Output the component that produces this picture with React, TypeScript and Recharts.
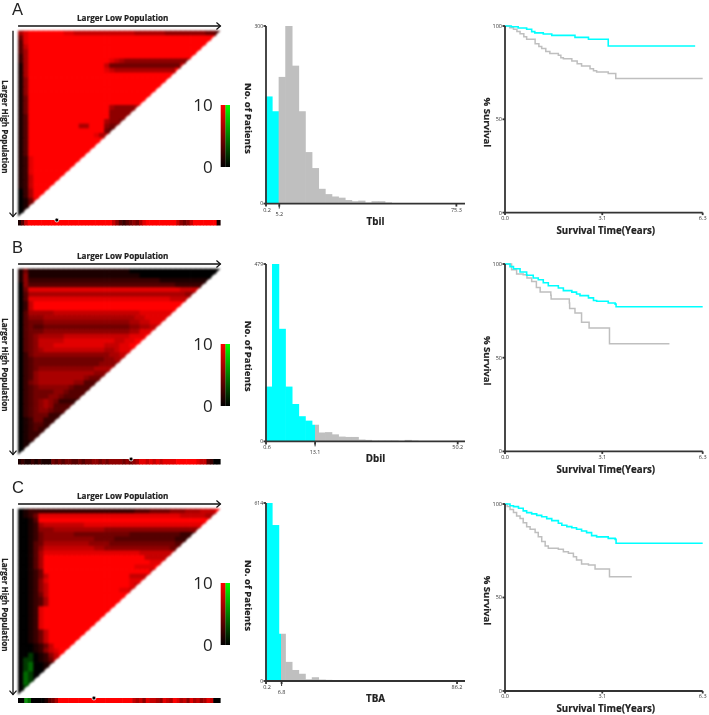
import { Bar, BarChart, Cell, Label, Line, LineChart, ReferenceDot, ReferenceLine, Scatter, ScatterChart, XAxis, YAxis } from 'recharts';

const FONT = '"Open Sans", sans-serif';
const CYAN = '#00FFFF';
const GREY = '#BFBFBF';
const AXIS = '#333333';

// X-tile grids: one string per row, one character per cell. 0-9 = black to red, a-c = green.
// A row may stop early, its last character then fills up to the diagonal.
const heatRowsA = [
  '6899999998877777777777766666655555555443', '489', '389', '379', '369', '269',
  '26999999999999999987655555555555559', '1699999999999999974444444444444479', '16999999999999999876666666666669',
  '169', '159', '159', '159', '159', '149', '149',
  '1499999999999999996555568', '149999999999999999555555', '13999999999999999955556', '139999999999999996554',
  '13999999999966999544', '1399999999999999943', '139999999999999866',
  '139', '139', '139', '139', '1289', '1289', '1289', '1289', '1279', '1279', '1279', '0269', '0269', '0148', '014', '01', '0',
];
const heatRowsB = [
  '1411111111111111111111000000000000000000', '1511111111111111111111110000000000000000', '1522222222222222222222222222111111',
  '0533333333333333333333333333333222', '0488888888888888888888888888888877', '0366666666666666666666666666666665',
  '0388888888888888888888888888887', '0279', '02799', '0366666777777777777777778', '0355566666666666666666677888',
  '0344455555555555555555667788', '034334444444444444444455667', '03444555555555555555556688', '03456666677777777777778889',
  '034577777888888888877889', '03457778888888888777889', '0345677777777777766788', '024555555555555555667',
  '02344444444444444556', '023444444444444455', '0234555555555556', '0235666666666665', '023566666666654', '02456666666553',
  '023455555543', '02344445543', '0234445543', '023456542', '02345653', '02345543', '0234442', '012442', '012332', '01232', '01222', '0122', '011', '01', '0',
];
const heatRowsC = [
  '0122222222222222222222233344445556667779', '01248888888888888888888888888888777776', '0013999999999999999999999999999999999',
  '0012677777777888888888888888888888888', '0012555666666666655555555555555555', '0012455555544444444444333333333322',
  '001245555555555444433333333333322', '00134666666666555544444444444443', '0013577777777776655555555555554',
  '00136888888888888888888877777774', '0013699999999999999999999777775', '00136999999999999999999999888',
  '0013699999999999999999988889', '00124999999999999999999999777', '00124799999999999999997777', '00125899999999999999998889',
  '0012579999999999999999877', '00125799999999999999887', '0012479', '0012369', '0012369', '001289', '001289', '001289', '001289', '001289',
  '0012479', '0012479', '0012479', '000124799999', '0001257899', '00a012579', '0aa01247', '0ab0012', '0ab001', '0ba00', '0ba0', '0ba', '0a', '0',
];

const stripA = '137999999999999999999999999975323454689999999997545799999991';
const stripB = '121121211143434433434455454555545456887878788889999998773200';
const stripC = '00cb0000134699999999999999999999997675877658769867586756870';

const histA = [181, 156, 214, 300, 233, 156, 87, 60, 25, 16, 12, 10, 6, 4, 5, 2, 4, 4, 2, 1, 1, 1, 1, 1, 1, 0, 0, 0, 0, 0];
const histB = [148, 479, 304, 148, 101, 68, 56, 45, 24, 25, 19, 13, 12, 12, 5, 4, 2, 2, 2, 2, 1, 4, 2, 1, 1, 1, 1, 1, 1, 0];
const histC = [614, 538, 163, 66, 38, 25, 6, 13, 5, 4, 3, 3, 2, 1, 2, 2, 1, 2, 2, 1, 0, 0, 0, 0, 0, 0, 0, 0, 0, 0];

const highA = [[0, 100], [0.2, 99.6], [0.42, 98.9], [0.69, 98.3], [0.85, 97], [0.95, 96.3], [1.22, 95.7], [1.49, 95], [2.23, 93.9], [2.66, 92.9], [3.29, 89.3], [6.06, 89.3]];
const lowA = [[0, 100], [0.15, 99], [0.27, 98.2], [0.38, 97], [0.48, 95.9], [0.6, 94.3], [0.69, 92.9], [0.96, 90.5], [1.08, 89], [1.17, 87.9], [1.3, 86.3], [1.43, 85.2], [1.7, 84.3], [1.78, 83], [1.86, 82.5], [2.13, 81.3], [2.3, 79.8], [2.44, 78.6], [2.71, 77.1], [2.82, 76], [2.92, 75.4], [3.29, 74.5], [3.53, 71.8], [6.3, 71.8]];
const highB = [[0, 100], [0.16, 98.6], [0.27, 97.5], [0.48, 95.7], [0.69, 94], [0.9, 92.5], [1.06, 91.6], [1.22, 90], [1.38, 88.4], [1.7, 87.2], [1.86, 85.8], [2.13, 85], [2.28, 84], [2.39, 83.1], [2.66, 81.9], [2.82, 80.5], [2.92, 80.1], [3.29, 79.2], [3.51, 78.6], [3.54, 77.2], [6.3, 77.2]];
const lowB = [[0, 100], [0.21, 97], [0.37, 94.7], [0.58, 94.3], [0.7, 92.5], [0.85, 90.7], [1.0, 87.5], [1.12, 85], [1.46, 83.3], [1.47, 81.3], [2.05, 79.2], [2.06, 76.2], [2.23, 73.8], [2.44, 68.9], [2.68, 65.8], [3.33, 57.5], [5.24, 57.5]];
const highC = [[0, 100], [0.16, 99.1], [0.27, 98.6], [0.43, 97.7], [0.58, 96.3], [0.69, 95.4], [0.85, 94.7], [1.01, 93.9], [1.17, 93.2], [1.33, 92.2], [1.49, 91.1], [1.7, 89.7], [1.81, 88.6], [1.97, 87.9], [2.13, 87.3], [2.28, 86.5], [2.44, 85.6], [2.6, 84.7], [2.76, 83.1], [2.92, 82.4], [3.29, 81.6], [3.51, 81.1], [3.54, 79], [6.3, 79]];
const lowC = [[0, 100], [0.07, 98.6], [0.16, 97.1], [0.27, 95.4], [0.37, 93.6], [0.48, 92.3], [0.58, 90], [0.69, 87.9], [0.8, 86.5], [0.96, 84.7], [1.06, 82.5], [1.17, 79.9], [1.28, 77.5], [1.38, 76.3], [1.7, 75.8], [1.86, 74.5], [2.02, 73.6], [2.18, 71.8], [2.28, 70.1], [2.44, 67.9], [2.66, 67.4], [2.87, 65.2], [3.33, 61.1], [4.04, 61.1]];

const COLS = 40;
const CELL_W = 5.06;
const CELL_H = 4.65;
const STRIP_BINS = 60;
const STRIP_W = 202.5;

const levelColor = (ch: string) => {
  if (ch === 'a') return '#003a00';
  if (ch === 'b') return '#006a00';
  if (ch === 'c') return '#109010';
  return `rgb(${Math.round((Number(ch) / 9) * 255)},0,0)`;
};

const toCells = (rows: string[]) =>
  rows.flatMap((row, r) => {
    const n = COLS - r;
    const full = row.padEnd(n, row[row.length - 1]).slice(0, n);
    return full.split('').map((ch, c) => ({ x: c + 0.5, y: r + 0.5, fill: levelColor(ch), edge: c === n - 1 }));
  });

const HeatCell = (props: any) => {
  const { cx, cy, payload } = props;
  const x = cx - CELL_W / 2;
  const y = cy - CELL_H / 2;
  if (payload.edge) {
    return <polygon points={`${x},${y} ${x + CELL_W},${y} ${x},${y + CELL_H}`} fill={payload.fill} />;
  }
  return <rect x={x} y={y} width={CELL_W + 0.8} height={CELL_H + 0.8} fill={payload.fill} />;
};

// recharts floors bar widths, so the bins are drawn at their true width to close the gaps
const binShape = (w: number) => (p: any) =>
  p.height > 0 ? <rect x={p.x + p.width / 2 - w / 2} y={p.y} width={w} height={p.height} fill={p.payload.fill} /> : <g />;

const boldLabel = { fontFamily: FONT, fontWeight: 700, fill: '#222', stroke: '#222', strokeWidth: 0.2 };

function Triangle({ rows, top, id }: { rows: string[]; top: number; id: string }) {
  const plotW = (COLS + 1) * CELL_W;
  const plotH = (COLS + 1) * CELL_H;
  return (
    <div style={{ position: 'absolute', left: -3, top: top - CELL_H - 16 }}>
      <ScatterChart width={16 + plotW + 6} height={16 + plotH + 6} margin={{ top: 0, right: 6, bottom: 6, left: 0 }}>
        <defs>
          <marker id={id} markerWidth="6" markerHeight="8" refX="4.5" refY="4" orient="auto" markerUnits="userSpaceOnUse">
            <path d="M0.5,0.5 L4.5,4 L0.5,7.5" fill="none" stroke="#111" strokeWidth="1.2" />
          </marker>
        </defs>
        <XAxis type="number" dataKey="x" domain={[-1, COLS]} orientation="top" height={16} tick={false} axisLine={false} tickLine={false}>
          <Label value="Larger Low Population" position="center" fontSize={8.15} dx={6} {...boldLabel} />
        </XAxis>
        <YAxis type="number" dataKey="y" domain={[-1, COLS]} reversed width={16} tick={false} axisLine={false} tickLine={false}>
          <Label value="Larger High Population" position="center" angle={90} fontSize={8.15} dy={5.5} {...boldLabel} />
        </YAxis>
        <Scatter className="heat-cells" data={toCells(rows)} shape={HeatCell} isAnimationActive={false} />
        <ReferenceLine segment={[{ x: 0, y: -1 }, { x: COLS, y: -1 }]} stroke="#111" strokeWidth={1.3} markerEnd={`url(#${id})`} />
        <ReferenceLine segment={[{ x: -1, y: 0 }, { x: -1, y: COLS }]} stroke="#111" strokeWidth={1.3} markerEnd={`url(#${id})`} />
      </ScatterChart>
    </div>
  );
}

function Strip({ levels, top, dotBin }: { levels: string; top: number; dotBin: number }) {
  const full = levels.padEnd(STRIP_BINS, levels[levels.length - 1]).slice(0, STRIP_BINS);
  const data = full.split('').map((ch, i) => ({ i, v: 1, fill: levelColor(ch) }));
  return (
    <div style={{ position: 'absolute', left: 18, top: top - 4 }}>
      <BarChart width={STRIP_W} height={9.5} data={data} margin={{ top: 4, right: 0, bottom: 0, left: 0 }} barCategoryGap={0}>
        <XAxis dataKey="i" hide />
        <YAxis domain={[0, 1]} hide />
        <Bar className="strip-cells" dataKey="v" shape={binShape(STRIP_W / STRIP_BINS + 0.6)} isAnimationActive={false} />
        <ReferenceDot x={dotBin} y={1} r={2} fill="#000" stroke="#fff" strokeWidth={0.8} ifOverflow="visible" />
      </BarChart>
    </div>
  );
}

const scaleBands = [{ band: 'red', v: 10 }, { band: 'green', v: 10 }];

function ColorBar({ top, id }: { top: number; id: string }) {
  return (
    <div style={{ position: 'absolute', left: 170, top: top - 14 }}>
      <BarChart width={60.3} height={90} data={scaleBands} margin={{ top: 14, right: 0, bottom: 14, left: 0 }} barCategoryGap={0}>
        <defs>
          <linearGradient id={`${id}r`} x1="0" y1="0" x2="0" y2="1">
            <stop offset="0" stopColor="#ff0000" />
            <stop offset="1" stopColor="#000000" />
          </linearGradient>
          <linearGradient id={`${id}g`} x1="0" y1="0" x2="0" y2="1">
            <stop offset="0" stopColor="#00ff00" />
            <stop offset="1" stopColor="#000000" />
          </linearGradient>
        </defs>
        <XAxis dataKey="band" hide />
        <YAxis domain={[0, 10]} ticks={[0, 10]} width={50.7} axisLine={false} tickLine={false} tick={{ fontFamily: FONT, fontSize: 17, fill: '#222' }} tickMargin={2} />
        <Bar dataKey="v" isAnimationActive={false}>
          <Cell fill={`url(#${id}r)`} />
          <Cell fill={`url(#${id}g)`} />
        </Bar>
      </BarChart>
    </div>
  );
}

const BINS = 30;

function Histogram(props: { counts: number[]; top: number; bottom: number; cut: number; last: number; yMax: number; name: string; tickText: string[]; id: string }) {
  const { counts, top, bottom, cut, last, yMax, name, tickText, id } = props;
  const plotW = 199;
  const splitAt = cut - Math.floor(cut);
  const positions = [0, cut, last];
  const fillFor = (i: number) => {
    if (i + 1 <= cut) return CYAN;
    if (i >= cut) return GREY;
    return `url(#${id})`;
  };
  const data = counts.map((count, i) => ({ bin: i + 0.5, count, fill: fillFor(i) }));
  const renderTick = (p: any) => {
    const isCut = p.payload.value === cut;
    return (
      <g>
        {isCut && <line x1={p.x} y1={p.y - 2} x2={p.x} y2={p.y + 1} stroke={AXIS} strokeWidth={1} />}
        <text x={p.x + (p.payload.value === 0 ? 1 : 0)} y={p.y + (isCut ? 8.5 : 4)} textAnchor="middle" fontFamily={FONT} fontSize={5.5} fill="#333">
          {tickText[positions.indexOf(p.payload.value)]}
        </text>
      </g>
    );
  };
  return (
    <div style={{ position: 'absolute', left: 230, top: top - 6 }}>
      <BarChart width={36 + plotW + 5} height={bottom - top + 6 + 35} data={data} margin={{ top: 6, right: 5, bottom: 0, left: 0 }}>
        <defs>
          <linearGradient id={id} x1="0" y1="0" x2="1" y2="0">
            <stop offset={splitAt} stopColor={CYAN} />
            <stop offset={splitAt} stopColor={GREY} />
          </linearGradient>
        </defs>
        <XAxis
          type="number"
          dataKey="bin"
          domain={[0, BINS]}
          ticks={positions}
          interval={0}
          height={35}
          tickSize={3}
          tickMargin={1}
          tick={renderTick}
          stroke={AXIS}
          strokeWidth={1.8}
        >
          <Label value={name} position="center" dx={10} fontSize={9.8} {...boldLabel} />
        </XAxis>
        <YAxis
          domain={[0, yMax]}
          ticks={[0, yMax]}
          width={36}
          tickSize={2.5}
          tickMargin={0.5}
          tick={{ fontFamily: FONT, fontSize: 5, fill: '#333' }}
          stroke={AXIS}
          strokeWidth={1.8}
        >
          <Label value="No. of Patients" position="center" angle={90} dy={3.5} fontSize={9.6} {...boldLabel} />
        </YAxis>
        <Bar dataKey="count" barSize={plotW / BINS} shape={binShape(plotW / BINS + 0.6)} isAnimationActive={false} />
      </BarChart>
    </div>
  );
}

const toCurve = (pairs: number[][]) => pairs.map(([t, s]) => ({ t, s }));

function Survival({ high, low, top, bottom }: { high: number[][]; low: number[][]; top: number; bottom: number }) {
  return (
    <div style={{ position: 'absolute', left: 469, top: top - 6 }}>
      <LineChart width={36 + 197.7 + 5} height={bottom - top + 6 + 35.4} margin={{ top: 6, right: 5, bottom: 0, left: 0 }}>
        <XAxis
          type="number"
          dataKey="t"
          domain={[0, 6.3]}
          ticks={[0, 3.1, 6.3]}
          interval={0}
          height={35.4}
          tickSize={2.5}
          tickMargin={1}
          tickFormatter={(v) => v.toFixed(1)}
          tick={{ fontFamily: FONT, fontSize: 5.5, fill: '#333' }}
          stroke={AXIS}
          strokeWidth={1.8}
        >
          <Label value="Survival Time(Years)" position="center" dx={2} fontSize={9.7} {...boldLabel} />
        </XAxis>
        <YAxis
          type="number"
          dataKey="s"
          domain={[0, 100]}
          ticks={[0, 50, 100]}
          width={36}
          tickSize={2.5}
          tickMargin={0.5}
          tick={{ fontFamily: FONT, fontSize: 5.5, fill: '#333' }}
          stroke={AXIS}
          strokeWidth={1.8}
        >
          <Label value="% Survival" position="center" angle={90} dy={3} fontSize={9.6} {...boldLabel} />
        </YAxis>
        <Line data={toCurve(low)} dataKey="s" type="stepAfter" stroke={GREY} strokeWidth={1.5} dot={false} isAnimationActive={false} />
        <Line data={toCurve(high)} dataKey="s" type="stepAfter" stroke={CYAN} strokeWidth={1.6} dot={false} isAnimationActive={false} />
      </LineChart>
    </div>
  );
}

const Letter = ({ text, top }: { text: string; top: number }) => (
  <div style={{ position: 'absolute', left: 12, top, fontFamily: '"Liberation Sans", sans-serif', fontSize: 16.5, lineHeight: '19px', color: '#222' }}>{text}</div>
);

export default function App() {
  return (
    <div style={{ position: 'absolute', left: 0, top: 0, width: 709, height: 715, overflow: 'hidden', background: '#fff', filter: 'blur(0.3px)' }}>
      <style>{'.heat-cells { filter: blur(0.8px); } .strip-cells { filter: blur(0.5px); }'}</style>
      <Letter text="A" top={0} />
      <Letter text="B" top={238} />
      <Letter text="C" top={478} />

      <Triangle rows={heatRowsA} top={31} id="arrowA" />
      <Strip levels={stripA} top={220} dotBin={11} />
      <ColorBar top={105} id="scaleA" />
      <Histogram counts={histA} top={25.7} bottom={203.3} cut={2} last={28.7} yMax={300} name="Tbil" tickText={['0.2', '5.2', '75.3']} id="splitA" />
      <Survival high={highA} low={lowA} top={25.7} bottom={212.3} />

      <Triangle rows={heatRowsB} top={269} id="arrowB" />
      <Strip levels={stripB} top={459} dotBin={33} />
      <ColorBar top={344} id="scaleB" />
      <Histogram counts={histB} top={264.3} bottom={441.7} cut={7.4} last={28.9} yMax={479} name="Dbil" tickText={['0.6', '13.1', '50.2']} id="splitB" />
      <Survival high={highB} low={lowB} top={264.3} bottom={451.7} />

      <Triangle rows={heatRowsC} top={508.7} id="arrowC" />
      <Strip levels={stripC} top={697.7} dotBin={22} />
      <ColorBar top={583} id="scaleC" />
      <Histogram counts={histC} top={503.3} bottom={681.3} cut={2.35} last={28.8} yMax={614} name="TBA" tickText={['0.2', '6.8', '86.2']} id="splitC" />
      <Survival high={highC} low={lowC} top={504} bottom={691} />
    </div>
  );
}
